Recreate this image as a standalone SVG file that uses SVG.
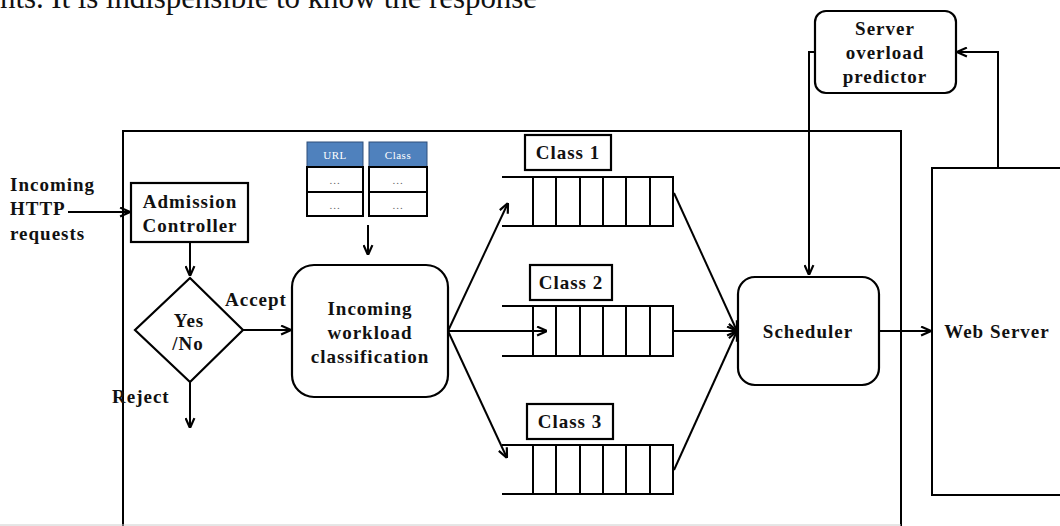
<svg xmlns="http://www.w3.org/2000/svg" width="1060" height="526" viewBox="0 0 1060 526">
<style>
.ln{fill:none;stroke:#000;stroke-width:2}
.bx{fill:#fff;stroke:#000;stroke-width:2.2}
.t{font-family:"Liberation Serif","Times New Roman",serif;font-weight:bold;font-size:19px;letter-spacing:1px;fill:#111;text-anchor:middle}
.tl{font-family:"Liberation Serif","Times New Roman",serif;font-weight:bold;font-size:19px;letter-spacing:1px;fill:#111}
.hd{fill:#4f81bd;stroke:#2f4f7a;stroke-width:1}
.cell{fill:#fff;stroke:#000;stroke-width:2}
.ht{font-family:"Liberation Serif","Times New Roman",serif;font-size:11px;fill:#fff;text-anchor:middle;letter-spacing:0.5px}
.dt{font-family:"Liberation Serif","Times New Roman",serif;font-size:11px;fill:#666;text-anchor:middle;letter-spacing:1px}
</style>
<defs>
<marker id="ah" viewBox="0 0 10 10" refX="10" refY="5" markerWidth="11" markerHeight="11" markerUnits="userSpaceOnUse" orient="auto">
<path d="M1,1 L10,5 L1,9" fill="none" stroke="#000" stroke-width="2"/>
</marker>
</defs>
<rect width="1060" height="526" fill="#fff"/>
<text x="0" y="8" font-family="Liberation Serif,serif" font-size="31" fill="#111" textLength="537" lengthAdjust="spacing">nts. It is indispensible to know the response</text>

<g id="system-boundary">
<rect x="123" y="131" width="778" height="430" class="ln"/>
<line x1="0" y1="525" x2="901" y2="525" stroke="#ccc" stroke-width="1"/>
</g>

<g id="incoming-label">
<text class="tl" x="10" y="191">Incoming</text>
<text class="tl" x="10" y="215">HTTP</text>
<text class="tl" x="10" y="240">requests</text>
</g>

<g id="admission-controller">
<rect x="131" y="183" width="117" height="59" class="bx"/>
<text class="t" x="190" y="208">Admission</text>
<text class="t" x="190" y="232">Controller</text>
</g>

<g id="decision">
<polygon points="190,278 243,330 190,382 135,330" class="bx"/>
<text class="t" x="189" y="327">Yes</text>
<text class="t" x="188" y="350">/No</text>
</g>

<g id="url-table">
<rect x="307" y="142" width="56" height="25" class="hd"/>
<rect x="369" y="142" width="58" height="25" class="hd"/>
<text class="ht" x="335" y="159">URL</text>
<text class="ht" x="398" y="159">Class</text>
<rect x="307" y="167" width="56" height="25" class="cell"/>
<rect x="307" y="192" width="56" height="24" class="cell"/>
<rect x="369" y="167" width="58" height="25" class="cell"/>
<rect x="369" y="192" width="58" height="24" class="cell"/>
<text class="dt" x="335" y="184">...</text>
<text class="dt" x="335" y="209">...</text>
<text class="dt" x="398" y="184">...</text>
<text class="dt" x="398" y="209">...</text>
</g>

<g id="classification">
<rect x="292" y="265" width="156" height="132" rx="22" class="bx"/>
<text class="t" x="370" y="315">Incoming</text>
<text class="t" x="370" y="339">workload</text>
<text class="t" x="370" y="363">classification</text>
</g>

<g id="class1">
<rect x="525" y="135" width="86" height="35" class="bx"/>
<text class="t" x="568" y="159">Class 1</text>
<path class="ln" d="M502,177 H673 V226 H502 M533,177 V226 M556,177 V226 M580,177 V226 M603,177 V226 M626,177 V226 M650,177 V226"/>
</g>

<g id="class2">
<rect x="530" y="265" width="82" height="35" class="bx"/>
<text class="t" x="571" y="289">Class 2</text>
<path class="ln" d="M502,306 H673 V356 H502 M533,306 V356 M556,306 V356 M580,306 V356 M603,306 V356 M626,306 V356 M650,306 V356"/>
</g>

<g id="class3">
<rect x="527" y="404" width="86" height="35" class="bx"/>
<text class="t" x="570" y="428">Class 3</text>
<path class="ln" d="M502,445 H673 V494 H502 M533,445 V494 M556,445 V494 M580,445 V494 M603,445 V494 M626,445 V494 M650,445 V494"/>
</g>

<g id="scheduler">
<rect x="738" y="277" width="141" height="108" rx="17" class="bx"/>
<text class="t" x="808" y="338">Scheduler</text>
</g>

<g id="predictor">
<rect x="815" y="11" width="141" height="82" rx="11" class="bx"/>
<text class="t" x="885" y="35">Server</text>
<text class="t" x="885" y="59">overload</text>
<text class="t" x="885" y="83">predictor</text>
</g>

<g id="web-server">
<rect x="932" y="168" width="140" height="327" class="ln"/>
<text class="t" x="997" y="338">Web Server</text>
</g>

<g id="connectors">
<line class="ln" x1="68" y1="212" x2="130" y2="212" marker-end="url(#ah)"/>
<line class="ln" x1="190" y1="242" x2="190" y2="276" marker-end="url(#ah)"/>
<line class="ln" x1="243" y1="330" x2="291" y2="330" marker-end="url(#ah)"/>
<text class="tl" x="225" y="306">Accept</text>
<line class="ln" x1="190" y1="382" x2="190" y2="428" marker-end="url(#ah)"/>
<text class="tl" x="112" y="403">Reject</text>
<line class="ln" x1="368" y1="225" x2="368" y2="255" marker-end="url(#ah)"/>
<line class="ln" x1="448" y1="331" x2="508" y2="203" marker-end="url(#ah)"/>
<line class="ln" x1="448" y1="331" x2="547" y2="331" marker-end="url(#ah)"/>
<line class="ln" x1="448" y1="331" x2="507" y2="458" marker-end="url(#ah)"/>
<line class="ln" x1="674" y1="193" x2="737" y2="331" marker-end="url(#ah)"/>
<line class="ln" x1="674" y1="331" x2="737" y2="331" marker-end="url(#ah)"/>
<line class="ln" x1="674" y1="470" x2="737" y2="331" marker-end="url(#ah)"/>
<line class="ln" x1="879" y1="331" x2="931" y2="331" marker-end="url(#ah)"/>
<path class="ln" d="M815,52 H809 V275" marker-end="url(#ah)"/>
<path class="ln" d="M998,168 V52 H957" marker-end="url(#ah)"/>
</g>
</svg>
